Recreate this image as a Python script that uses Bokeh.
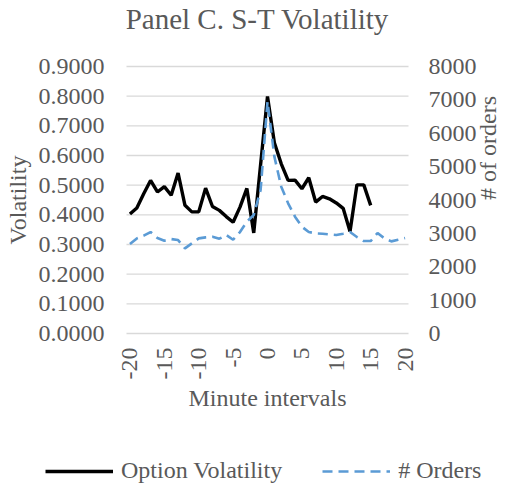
import math
from bokeh.plotting import figure
from bokeh.models import (Range1d, LinearAxis, FixedTicker, NumeralTickFormatter,
                          Legend, LegendItem, Label)
from bokeh.embed import file_html
from bokeh.resources import INLINE

minutes = list(range(-20, 21))
volatility = [0.403, 0.423, 0.471, 0.516, 0.477, 0.495, 0.466, 0.541, 0.432, 0.410,
              0.410, 0.490, 0.428, 0.415, 0.394, 0.375, 0.426, 0.489, 0.339, 0.570,
              0.799, 0.643, 0.572, 0.516, 0.517, 0.488, 0.525, 0.443, 0.462, 0.454,
              0.440, 0.422, 0.344, 0.501, 0.501, 0.432,
              float("nan"), float("nan"), float("nan"), float("nan"), float("nan")]
orders = [2680, 2850, 2930, 3040, 2860, 2780, 2830, 2800, 2550, 2700,
          2850, 2880, 2900, 2840, 2950, 2810, 3040, 3350, 3550, 4300,
          6950, 5300, 4400, 3900, 3500, 3200, 3040, 3000, 2990, 2970,
          2950, 2990, 3040, 2890, 2770, 2770, 3010, 2850, 2760, 2810, 2860]

x_ticks = [-20, -15, -10, -5, 0, 5, 10, 15, 20]
vol_ticks = [0.0, 0.1, 0.2, 0.3, 0.4, 0.5, 0.6, 0.7, 0.8, 0.9]
order_ticks = [0, 1000, 2000, 3000, 4000, 5000, 6000, 7000, 8000]

TITLE = "Panel C. S-T Volatility"
FONT = "Liberation Serif"
GREY = "#595959"

# page geometry (pixels): the whole canvas is the frame; the plot area sits inside it
W, H = 511, 490
AREA_L, AREA_R, AREA_T, AREA_B = 126, 408, 66, 333

x_lo, x_hi = minutes[0] - 0.5, minutes[-1] + 0.5
v_lo, v_hi = vol_ticks[0], vol_ticks[-1]
o_lo, o_hi = order_ticks[0], order_ticks[-1]

ppx = (AREA_R - AREA_L) / (x_hi - x_lo)
ppv = (AREA_B - AREA_T) / (v_hi - v_lo)
ppo = (AREA_B - AREA_T) / (o_hi - o_lo)

p = figure(width=W, height=H, output_backend="svg", toolbar_location=None,
           min_border=0,
           x_range=Range1d(x_lo - AREA_L / ppx, x_hi + (W - AREA_R) / ppx),
           y_range=Range1d(v_lo - (H - AREA_B) / ppv, v_hi + AREA_T / ppv))
p.outline_line_color = None
p.background_fill_color = "white"
p.border_fill_color = "white"
p.extra_y_ranges = {"orders": Range1d(o_lo - (H - AREA_B) / ppo, o_hi + AREA_T / ppo)}
p.xgrid.visible = False
p.ygrid.visible = False

# horizontal gridlines across the plot area, at the volatility ticks
p.segment(x0=[x_lo] * len(vol_ticks), x1=[x_hi] * len(vol_ticks),
          y0=vol_ticks, y1=vol_ticks, line_color="#d9d9d9", line_width=1.3)

xa = p.xaxis[0]
xa.fixed_location = v_lo
xa.bounds = (x_lo, x_hi)
xa.ticker = FixedTicker(ticks=x_ticks)
xa.major_label_orientation = math.pi / 2
xa.major_label_overrides = {t_: str(t_) for t_ in x_ticks}
xa.axis_label = "Minute intervals"
ya = p.yaxis[0]
ya.fixed_location = x_lo
ya.bounds = (v_lo, v_hi)
ya.ticker = FixedTicker(ticks=vol_ticks)
ya.formatter = NumeralTickFormatter(format="0.0000")
ya.axis_label = "Volatility"
ra = LinearAxis(y_range_name="orders", ticker=FixedTicker(ticks=order_ticks),
                formatter=NumeralTickFormatter(format="0"), axis_label="# of orders",
                bounds=(o_lo, o_hi))
ra.fixed_location = x_hi
p.add_layout(ra, "right")
ra.axis_label_orientation = math.pi / 2

for ax in (xa, ya, ra):
    ax.axis_line_color = None
    ax.major_tick_line_color = None
    ax.minor_tick_line_color = None
    ax.major_tick_out = 0
    ax.major_tick_in = 0
    ax.minor_tick_out = 0
    ax.major_label_text_font = FONT
    ax.major_label_text_font_size = "24px"
    ax.major_label_text_color = GREY
    ax.axis_label_text_font = FONT
    ax.axis_label_text_font_size = "24px"
    ax.axis_label_text_font_style = "normal"
    ax.axis_label_text_color = GREY
ya.major_label_standoff = 22
ra.major_label_standoff = 20
xa.major_label_standoff = 14
ya.axis_label_standoff = 5
ra.axis_label_standoff = 8
xa.axis_label_standoff = 3

r_vol = p.line(minutes, volatility, line_color="black", line_width=3.4)
r_ord = p.line(minutes, orders, y_range_name="orders", line_color="#5b9bd5",
               line_width=2.6, line_dash="10 6")

p.add_layout(Label(x=257, y=H - 18, x_units="screen", y_units="screen", text=TITLE,
                   text_align="center", text_baseline="alphabetic",
                   text_font=FONT, text_font_size="29px", text_color=GREY))

legend = Legend(items=[LegendItem(label="Option Volatility", renderers=[r_vol]),
                       LegendItem(label="# Orders", renderers=[r_ord])],
                orientation="horizontal", location=(45, 6))
legend.label_text_font = FONT
legend.label_text_font_size = "24px"
legend.label_text_color = GREY
legend.glyph_width = 68
legend.label_standoff = 8
legend.spacing = 40
legend.padding = 0
legend.margin = 0
legend.border_line_color = None
legend.background_fill_alpha = 0
p.add_layout(legend, "center")

open("out.html", "w").write(file_html(p, INLINE))
